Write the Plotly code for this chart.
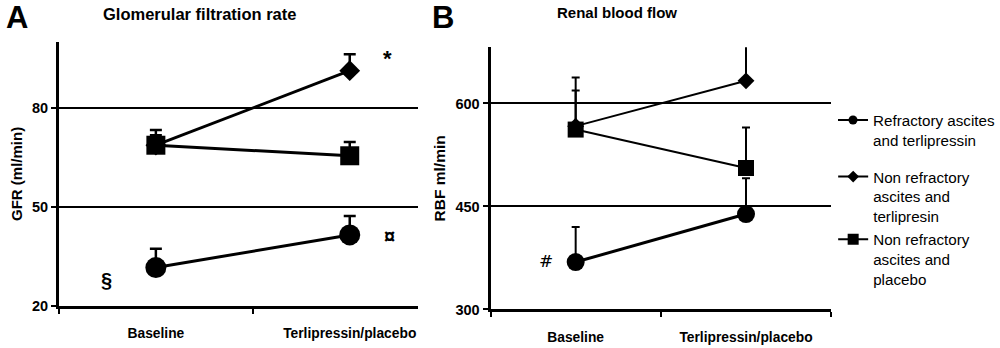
import plotly.graph_objects as go

# ---- data ----
categories = ["Baseline", "Terlipressin/placebo"]
cat_pos = [0, 1]

# Panel A: GFR (ml/min)
gfr_refractory = [31.6, 41.5]
gfr_refractory_err = [5.7, 5.7]
gfr_nonref_terli = [68.7, 91.3]
gfr_nonref_terli_err = [3.0, 5.0]
gfr_nonref_placebo = [68.7, 65.5]
gfr_nonref_placebo_err = [4.6, 4.2]

# Panel B: RBF (ml/min)
rbf_refractory = [369, 439]
rbf_refractory_err = [51, 52]
rbf_nonref_terli = [567, 633]
rbf_nonref_terli_err = [71, 53]
rbf_nonref_placebo = [562, 506]
rbf_nonref_placebo_err = [57, 59]

series_names = [
    "Refractory ascites<br>and terlipressin",
    "Non refractory<br>ascites and<br>terlipresin",
    "Non refractory<br>ascites and<br>placebo",
]

yticks_a = [20, 50, 80]
yticks_b = [300, 450, 600]

FONT = "Liberation Sans, Arial, sans-serif"
BLACK = "#000000"

fig = go.Figure()


def add_series(y, err, symbol, size, lw, errw, errthick, xa, ya):
    fig.add_trace(go.Scatter(
        x=cat_pos, y=y, mode="lines+markers",
        marker=dict(symbol=symbol, size=size, color=BLACK, line=dict(width=0)),
        line=dict(color=BLACK, width=lw),
        error_y=dict(type="data", symmetric=False, array=err,
                     arrayminus=[0] * len(err), color=BLACK,
                     thickness=errthick, width=errw),
        showlegend=False, xaxis=xa, yaxis=ya, hoverinfo="skip",
        cliponaxis=False,
    ))


# Panel A
add_series(gfr_refractory, gfr_refractory_err, "circle", 21, 3, 6, 2.5, "x", "y")
add_series(gfr_nonref_placebo, gfr_nonref_placebo_err, "square", 19, 3, 6, 2.5, "x", "y")
add_series(gfr_nonref_terli, gfr_nonref_terli_err, "diamond", 16, 3, 6, 2.5, "x", "y")
# Panel B
add_series(rbf_refractory, rbf_refractory_err, "circle", 18, 3, 4, 2, "x2", "y2")
add_series(rbf_nonref_placebo, rbf_nonref_placebo_err, "square", 16, 2, 4, 2, "x2", "y2")
add_series(rbf_nonref_terli, rbf_nonref_terli_err, "diamond", 13, 2, 4, 2, "x2", "y2")

# legend entries
legend_symbols = [("circle", 9), ("diamond", 9), ("square", 11)]
for i, (name, (sym, sz)) in enumerate(zip(series_names, legend_symbols)):
    fig.add_trace(go.Scatter(
        x=[None], y=[None], mode="lines+markers", name=name,
        marker=dict(symbol=sym, size=sz, color=BLACK),
        line=dict(color=BLACK, width=2),
        legend="legend" if i == 0 else f"legend{i+1}",
        xaxis="x2", yaxis="y2",
    ))


def xaxis_cfg(domain, rng, minor_vals):
    return dict(
        domain=domain, range=rng, tickmode="array", tickvals=cat_pos,
        ticktext=categories, ticks="", showgrid=False, zeroline=False,
        showline=True, linecolor=BLACK, linewidth=3,
        tickfont=dict(family=FONT, size=13.8, color=BLACK, weight="bold"),
        ticklabelstandoff=13,
        minor=dict(tickmode="array", tickvals=minor_vals, ticks="outside",
                   ticklen=5, tickwidth=2, tickcolor=BLACK, showgrid=False),
    )


def yaxis_cfg(domain, rng, ticks, title, tsize, anchor):
    return dict(
        domain=domain, range=rng, tickmode="array", tickvals=ticks,
        ticks="outside", ticklen=5, tickwidth=2, tickcolor=BLACK,
        showgrid=True, gridcolor=BLACK, gridwidth=2, zeroline=False,
        showline=True, linecolor=BLACK, linewidth=3,
        tickfont=dict(family=FONT, size=14.5, color=BLACK, weight="bold"),
        title=dict(text=title, font=dict(family=FONT, size=tsize, color=BLACK, weight="bold"),
                   standoff=6),
        anchor=anchor,
    )


fig.update_layout(
    width=1000, height=348,
    margin=dict(l=0, r=0, t=0, b=0),
    paper_bgcolor="white", plot_bgcolor="white",
    font=dict(family=FONT, color=BLACK),
    xaxis=dict(**xaxis_cfg([0.059, 0.418], [-0.5, 1.35], [-0.5, 0.5]), anchor="y"),
    yaxis=yaxis_cfg([0.1006, 0.8764], [20, 100], yticks_a, "GFR (ml/min)", 15, "x"),
    xaxis2=dict(**xaxis_cfg([0.491, 0.832], [-0.5, 1.5], [-0.5, 0.5, 1.5]), anchor="y2"),
    yaxis2=yaxis_cfg([0.0899, 0.8612], [300, 682], yticks_b, "RBF ml/min", 15.5, "x2"),
    showlegend=True,
)

legend_common = dict(
    xanchor="left", yanchor="top", bgcolor="rgba(0,0,0,0)", borderwidth=0,
    font=dict(family=FONT, size=15.2, color=BLACK), valign="top",
    itemwidth=30, tracegroupgap=0,
)
fig.update_layout(
    legend=dict(x=0.834, y=1 - 106 / 348, **legend_common),
    legend2=dict(x=0.834, y=1 - 164 / 348, **legend_common),
    legend3=dict(x=0.834, y=1 - 228 / 348, **legend_common),
)

annots = [
    dict(text="A", x=17.5 / 1000, y=1 - 17.5 / 348, xref="paper", yref="paper",
         font=dict(size=31, weight="bold")),
    dict(text="B", x=443 / 1000, y=1 - 17.5 / 348, xref="paper", yref="paper",
         font=dict(size=31, weight="bold")),
    dict(text="Glomerular filtration rate", x=0.200, y=1 - 14 / 348, xref="paper", yref="paper",
         font=dict(size=16.5, weight="bold")),
    dict(text="Renal blood flow", x=0.618, y=1 - 12.5 / 348, xref="paper", yref="paper",
         font=dict(size=15, weight="bold")),
    dict(text="*", x=1.196, y=95, xref="x", yref="y", font=dict(size=22, weight="bold")),
    dict(text="¤", x=1.206, y=41.1, xref="x", yref="y", font=dict(size=20, weight="bold")),
    dict(text="§", x=-0.253, y=27.7, xref="x", yref="y", font=dict(size=20, weight="bold")),
    dict(text="#", x=-0.176, y=370.8, xref="x2", yref="y2",
         font=dict(size=17, family="DejaVu Serif, serif")),
]
for a in annots:
    f = dict(family=FONT, color=BLACK)
    f.update(a.pop("font"))
    fig.add_annotation(**a, font=f, showarrow=False, xanchor="center", yanchor="middle")

fig.write_html("out.html")
